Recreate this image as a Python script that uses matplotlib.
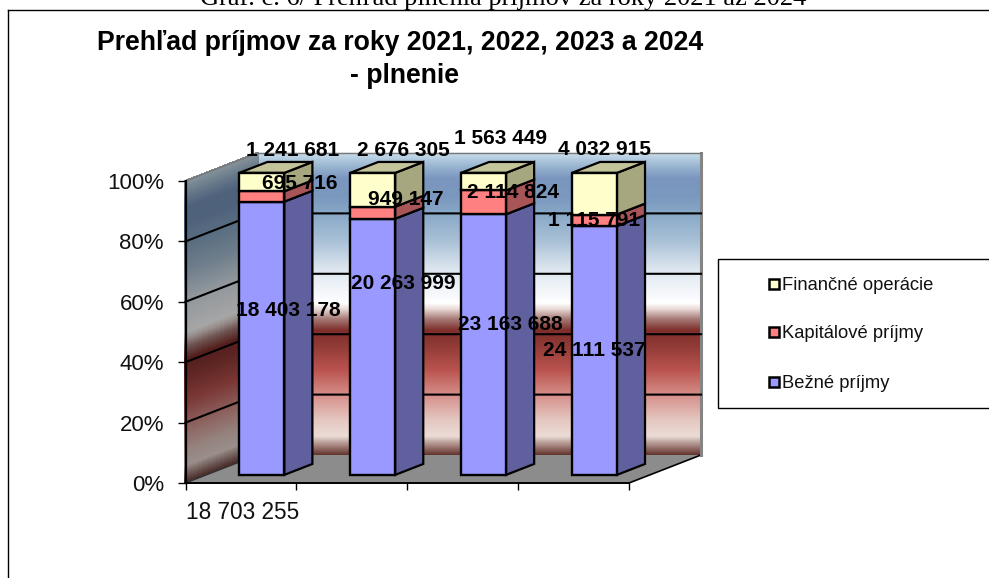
import matplotlib
matplotlib.use('Agg')
import matplotlib.pyplot as plt
from matplotlib.collections import PolyCollection
from matplotlib.colors import to_rgb
from matplotlib.lines import Line2D
from matplotlib.patches import Polygon, Rectangle
import numpy as np

plt.rcParams['font.family'] = ['Liberation Sans', 'DejaVu Sans']

# data
categories = ['18 703 255', '', '', '']
bezne = [18403178, 20263999, 23163688, 24111537]
kapitalove = [695716, 949147, 2114824, 1115791]
financne = [1241681, 2676305, 1563449, 4032915]
series_names = ['Finančné operácie', 'Kapitálové príjmy', 'Bežné príjmy']
percent_ticks = [0, 20, 40, 60, 80, 100]

W, H = 989, 578


def fx(px):
    return px / W


def fy(py):
    return 1 - py / H


fig = plt.figure(figsize=(W / 100, H / 100), dpi=100, facecolor='white')
# axes = front plane of the 3D box
ax = fig.add_axes([fx(185.5), fy(483), 443.5 / W, 302 / H], facecolor='none')
ax.set_xlim(0, 4)
ax.set_ylim(0, 100)

# oblique projection: depth 0 is the front plane, depth 1 the back wall
DX = 72 / (443.5 / 4)
DY = 28 / 3.02


def ob(x, y, d):
    return (x + d * DX, y + d * DY)


# wall gradient (pixel row on the back wall, colour)
wall_stops = [(153, '#c9deec'), (165, '#9db8d2'), (178, '#7a96bf'), (195, '#7a97be'),
              (213, '#88a8c6'), (240, '#a8c0d6'), (270, '#dfe8f0'), (295, '#f7f9fc'),
              (303, '#ffffff'), (309, '#e8d8d4'), (318, '#a97f7b'), (330, '#7f2e2b'),
              (345, '#903a36'), (370, '#bb5450'), (395, '#d68f8a'), (420, '#e5c8c2'),
              (436, '#ecdcd6'), (441, '#c4aaa4'), (455, '#60302a')]
stop_pct = np.array([(455 - s[0]) / 3.02 for s in wall_stops])[::-1]
stop_rgb = np.array([to_rgb(s[1]) for s in wall_stops])[::-1]
levels = np.linspace(0, 100, 303)
mid = (levels[:-1] + levels[1:]) / 2
grad = np.column_stack([np.interp(mid, stop_pct, stop_rgb[:, i]) for i in range(3)])

back = [[ob(0, a, 1), ob(4, a, 1), ob(4, b, 1), ob(0, b, 1)] for a, b in zip(levels[:-1], levels[1:])]
side = [[ob(0, a, 0), ob(0, a, 1), ob(0, b, 1), ob(0, b, 0)] for a, b in zip(levels[:-1], levels[1:])]
ax.add_collection(PolyCollection(back, facecolors=grad, edgecolors=grad, linewidths=0.3, zorder=1, clip_on=False))
ax.add_collection(PolyCollection(side, facecolors=grad * 0.65, edgecolors=grad * 0.65, linewidths=1.0,
                                 antialiaseds=False, zorder=1, clip_on=False))

# floor
ax.add_patch(Polygon([ob(0, 0, 0), ob(4, 0, 0), ob(4, 0, 1), ob(0, 0, 1)], fc='#8c8c8c', ec='none', zorder=2, clip_on=False))
ax.plot(*zip(ob(4, 0, 0), ob(4, 0, 1)), color='black', lw=1.2, zorder=2, clip_on=False)
ax.plot(*zip(ob(0, 0, 0), ob(0, 0, 1)), color='#333333', lw=1.0, zorder=2, clip_on=False)

# right and top edge of the back wall
ax.plot(*zip(ob(4, 0, 1), ob(4, 100, 1)), color='#858585', lw=2.2, zorder=2, clip_on=False)
ax.plot(*zip(ob(0, 100, 1), ob(4, 100, 1)), color='#777777', lw=1.0, zorder=2, clip_on=False)
ax.plot(*zip(ob(0, 100, 0), ob(0, 100, 1)), color='#777777', lw=1.0, zorder=2, clip_on=False)

# gridlines on both walls
for p in percent_ticks[1:-1]:
    ax.plot(*zip(ob(0, p, 0), ob(0, p, 1), ob(4, p, 1)), color='black', lw=1.5, zorder=3, clip_on=False)

# stacked bars
totals = np.array(bezne) + np.array(kapitalove) + np.array(financne)
stack = [(bezne, '#9999ff', '#60609f'), (kapitalove, '#ff8080', '#a85558'), (financne, '#ffffcc', '#a6a67f')]
D0, D1 = 0.29, 0.68
BW = 45 / (443.5 / 4)
xs = np.arange(4) + 0.5
bottoms = np.zeros(4)
for vals, face, dark in stack:
    pct = np.array(vals) / totals * 100
    x_front = xs + D0 * DX
    ax.bar(x_front, pct, BW, bottom=bottoms + D0 * DY, color=face, edgecolor='black', linewidth=1.7, zorder=5, clip_on=False)
    for xf, b, h in zip(x_front - D0 * DX + BW / 2, bottoms, pct):
        quad = [ob(xf, b, D0), ob(xf, b, D1), ob(xf, b + h, D1), ob(xf, b + h, D0)]
        ax.add_patch(Polygon(quad, fc=dark, ec='black', lw=1.6, zorder=4, clip_on=False))
    bottoms = bottoms + pct
for x in xs:
    quad = [ob(x - BW / 2, 100, D0), ob(x + BW / 2, 100, D0), ob(x + BW / 2, 100, D1), ob(x - BW / 2, 100, D1)]
    ax.add_patch(Polygon(quad, fc='#c4c49b', ec='black', lw=1.6, zorder=4, clip_on=False))

# axes
for s in ['top', 'right']:
    ax.spines[s].set_visible(False)
ax.spines['left'].set_linewidth(1.6)
ax.spines['bottom'].set_linewidth(1.4)
ax.spines['left'].set_zorder(6)
ax.spines['bottom'].set_zorder(6)
ax.set_yticks(percent_ticks)
ax.set_yticklabels([f'{p}%' for p in percent_ticks], fontsize=16, color='#111111')
ax.set_xticks(range(5))
ax.set_xticklabels(categories + [''], fontsize=16.3, ha='left', color='#111111')
ax.tick_params(axis='y', length=5.5, width=1.0, pad=10)
ax.tick_params(axis='x', length=5, width=1.0, pad=8)

# data labels, placed by hand like in the original
label_pos = {
    0: [(288, 310), (300, 183), (293, 150)],
    1: [(403, 283), (406, 199), (403, 150)],
    2: [(510, 324), (513, 193), (500, 139)],
    3: [(594, 350), (594, 221), (605, 149)],
}
for i in range(4):
    for vals, (px, py) in zip((bezne, kapitalove, financne), label_pos[i]):
        txt = f'{vals[i]:,}'.replace(',', ' ')
        fig.text(fx(px), fy(py), txt, fontsize=15, fontweight='bold', color='black', ha='center', va='center', zorder=10)

# titles
fig.text(fx(400), fy(43), 'Prehľad príjmov za roky 2021, 2022, 2023 a 2024', fontsize=19.2, fontweight='bold', ha='center', va='center')
fig.text(fx(404), fy(76), '- plnenie', fontsize=19.2, fontweight='bold', ha='center', va='center')
fig.text(fx(503), fy(5), 'Graf. č. 6/ Prehľad plnenia príjmov za roky 2021 až 2024', fontsize=19,
         family=['Liberation Serif', 'DejaVu Serif'], ha='center', va='baseline')

# outer frame
fig.add_artist(Line2D([fx(7.5), fx(7.5)], [fy(10), 0], color='black', lw=1.0))
fig.add_artist(Line2D([fx(7.5), 1], [fy(10), fy(10)], color='black', lw=1.0))

# legend box runs off the right edge of the picture
fig.add_artist(Rectangle((fx(717.5), fy(408)), 1 - fx(717.5) + 0.01, (408 - 259) / H, transform=fig.transFigure, fc='white', ec='black', lw=1.0))
for name, col, py in zip(series_names, ['#ffffcc', '#ff8080', '#9999ff'], [284, 332, 382]):
    fig.add_artist(Rectangle((fx(769), fy(py + 5)), 10 / W, 10 / H, transform=fig.transFigure, fc=col, ec='black', lw=1.8))
    fig.text(fx(782), fy(py + 1), name, fontsize=13.2, color='#111111', ha='left', va='center')

plt.savefig('out.png', dpi=100)
